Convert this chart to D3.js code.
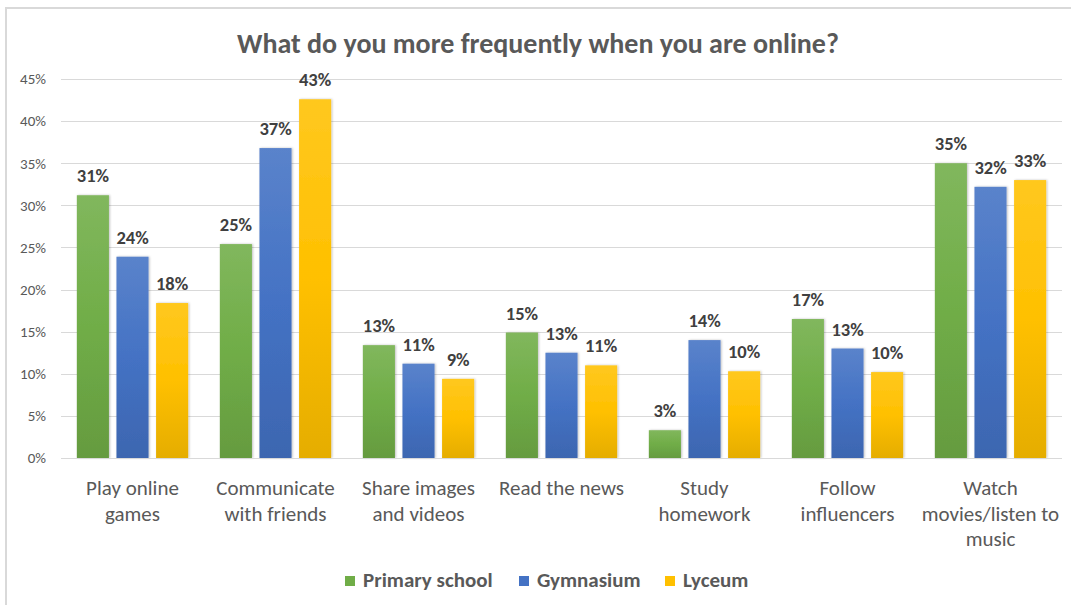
<!DOCTYPE html>
<html>
<head>
<meta charset="utf-8">
<script src="https://cdn.jsdelivr.net/npm/d3@7"></script>
<style>
  html, body { margin: 0; padding: 0; background: #fff; }
  svg { display: block; font-family: Carlito, Lato, "Open Sans", sans-serif; }
</style>
</head>
<body>
<svg id="chart" width="1071" height="605"></svg>
<script>
// Survey answers: share of pupils by school level
const categories = [
  ["Play online", "games"],
  ["Communicate", "with friends"],
  ["Share images", "and videos"],
  ["Read the news"],
  ["Study", "homework"],
  ["Follow", "influencers"],
  ["Watch", "movies/listen to", "music"]
];
const seriesNames = ["Primary school", "Gymnasium", "Lyceum"];
const primarySchool = [0.312, 0.254, 0.134, 0.149, 0.033, 0.165, 0.350];
const gymnasium     = [0.239, 0.368, 0.112, 0.125, 0.140, 0.130, 0.322];
const lyceum        = [0.184, 0.426, 0.094, 0.110, 0.103, 0.102, 0.330];
const yTicks = [0, 0.05, 0.10, 0.15, 0.20, 0.25, 0.30, 0.35, 0.40, 0.45];

const seriesValues = [primarySchool, gymnasium, lyceum];
const baseColors = ["#70AD47", "#4472C4", "#FFC000"];

const svg = d3.select("#chart");
const W = 1071, H = 605;
const margin = { left: 61, right: 9, top: 79, bottom: 147 };

// outer chart frame
svg.append("rect")
  .attr("x", 6).attr("y", 8)
  .attr("width", W + 10).attr("height", H + 10)
  .attr("fill", "#fff").attr("stroke", "#d9d9d9").attr("stroke-width", 2);

// vertical gradients: lighter at the top, darker at the bottom
const defs = svg.append("defs");
baseColors.forEach((c, i) => {
  const g = defs.append("linearGradient")
    .attr("id", "grad" + i)
    .attr("x1", 0).attr("y1", 0).attr("x2", 0).attr("y2", 1);
  const base = d3.color(c);
  g.append("stop").attr("offset", "0%").attr("stop-color", d3.interpolateRgb(c, "#fff")(0.12));
  g.append("stop").attr("offset", "50%").attr("stop-color", c);
  g.append("stop").attr("offset", "100%").attr("stop-color", base.darker(0.3));
});
const shadow = defs.append("filter").attr("id", "shadow")
  .attr("x", "-20%").attr("y", "-5%").attr("width", "150%").attr("height", "115%");
shadow.append("feDropShadow")
  .attr("dx", 1).attr("dy", 0).attr("stdDeviation", 1)
  .attr("flood-color", "#000").attr("flood-opacity", 0.25);

const x0 = d3.scaleBand()
  .domain(d3.range(categories.length))
  .range([margin.left, W - margin.right])
  .paddingInner(0).paddingOuter(0);
const x1 = d3.scaleBand()
  .domain(d3.range(seriesNames.length))
  .range([0, x0.bandwidth()])
  .paddingInner(0.19).paddingOuter(0.4);
const y = d3.scaleLinear().domain([0, 0.45]).range([H - margin.bottom, margin.top]);

// title
svg.append("text")
  .attr("x", 538).attr("y", 53)
  .attr("text-anchor", "middle")
  .attr("font-size", 28).attr("font-weight", "bold")
  .attr("fill", "#595959")
  .text("What do you more frequently when you are online?");

// horizontal gridlines
svg.append("g")
  .selectAll("line")
  .data(yTicks)
  .join("line")
  .attr("x1", margin.left).attr("x2", W - margin.right)
  .attr("y1", d => Math.round(y(d)) + 0.5).attr("y2", d => Math.round(y(d)) + 0.5)
  .attr("stroke", "#d9d9d9").attr("stroke-width", 1);

// y axis labels
const yAxis = d3.axisLeft(y).tickValues(yTicks).tickFormat(d3.format(".0%")).tickSize(0).tickPadding(15);
const yg = svg.append("g").attr("transform", `translate(${margin.left},0)`).call(yAxis);
yg.select(".domain").remove();
yg.selectAll("text").attr("font-size", 15).attr("fill", "#595959")
  .attr("font-family", "Carlito, Lato, 'Open Sans', sans-serif");

// bars
const groups = svg.append("g")
  .selectAll("g")
  .data(categories.map((c, i) => i))
  .join("g")
  .attr("transform", i => `translate(${x0(i)},0)`);

groups.selectAll("rect")
  .data(i => seriesValues.map((vals, s) => ({ s, v: vals[i] })))
  .join("rect")
  .attr("x", d => x1(d.s))
  .attr("y", d => y(d.v))
  .attr("width", x1.bandwidth())
  .attr("height", d => y(0) - y(d.v))
  .attr("fill", d => `url(#grad${d.s})`)
  .attr("filter", "url(#shadow)");

// value labels
groups.selectAll("text.val")
  .data(i => seriesValues.map((vals, s) => ({ s, v: vals[i] })))
  .join("text")
  .attr("class", "val")
  .attr("x", d => x1(d.s) + x1.bandwidth() / 2)
  .attr("y", d => y(d.v) - 13)
  .attr("text-anchor", "middle")
  .attr("font-size", 18.5).attr("font-weight", "bold")
  .attr("fill", "#404040")
  .text(d => d3.format(".0%")(d.v));

// baseline
svg.append("line")
  .attr("x1", margin.left).attr("x2", W - margin.right)
  .attr("y1", Math.round(y(0)) + 0.5).attr("y2", Math.round(y(0)) + 0.5)
  .attr("stroke", "#d9d9d9");

// category labels
const catG = svg.append("g");
categories.forEach((lines, i) => {
  const t = catG.append("text")
    .attr("x", x0(i) + x0.bandwidth() / 2)
    .attr("y", 495)
    .attr("text-anchor", "middle")
    .attr("font-size", 21).attr("fill", "#595959");
  lines.forEach((ln, k) => {
    t.append("tspan")
      .attr("x", x0(i) + x0.bandwidth() / 2)
      .attr("dy", k === 0 ? 0 : 25.5)
      .text(ln);
  });
});

// legend
const legendX = [345, 519, 665];
const lg = svg.append("g");
seriesNames.forEach((name, i) => {
  lg.append("rect")
    .attr("x", legendX[i]).attr("y", 576)
    .attr("width", 10).attr("height", 10)
    .attr("fill", baseColors[i]);
  lg.append("text")
    .attr("x", legendX[i] + 18).attr("y", 587)
    .attr("font-size", 21).attr("font-weight", "bold")
    .attr("fill", "#595959")
    .text(name);
});
</script>
</body>
</html>
